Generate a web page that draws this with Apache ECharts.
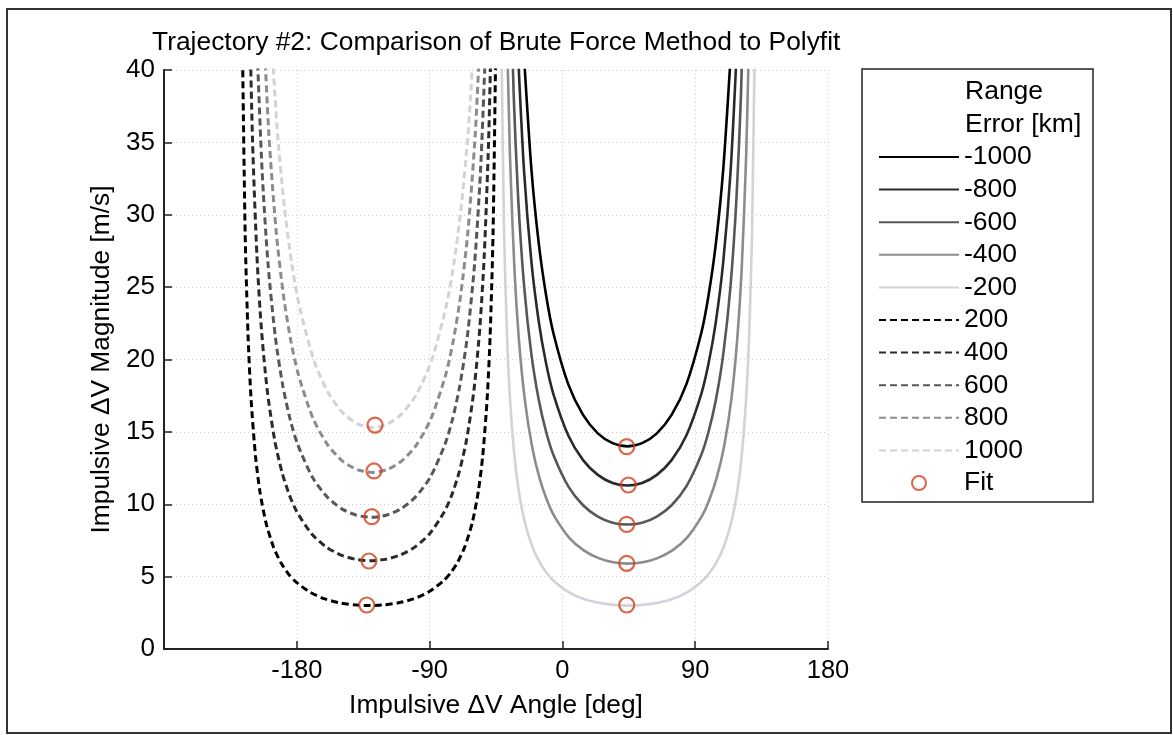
<!DOCTYPE html>
<html>
<head>
<meta charset="utf-8">
<script src="https://cdn.jsdelivr.net/npm/echarts@6/dist/echarts.min.js"></script>
<style>
html,body{margin:0;padding:0;background:#fff;}
#chart{width:1173px;height:735px;}
</style>
</head>
<body>
<div id="chart"></div>
<script>
// ---- Data: [angle deg, magnitude m/s] ----
const rangeM1000 = [[-26,40.93],[-21,33.13],[-16,28.00],[-11,24.41],[-6,21.78],[4,18.28],[14,16.17],[24,14.90],[34,14.22],[44,14.00],[54,14.22],[64,14.90],[74,16.17],[84,18.28],[94,21.78],[99,24.41],[104,28.00],[109,33.13],[114,40.93]];
const rangeM800 = [[-30,41.00],[-26,33.04],[-21,26.74],[-16,22.60],[-11,19.70],[-6,17.58],[4,14.75],[14,13.05],[24,12.03],[34,11.47],[44,11.30],[54,11.47],[64,12.03],[74,13.05],[84,14.75],[94,17.58],[99,19.70],[104,22.60],[109,26.74],[114,33.04],[118,41.00]];
const rangeM600 = [[-36,49.53],[-33,38.23],[-30,31.20],[-26,25.14],[-21,20.35],[-16,17.20],[-11,14.99],[-6,13.38],[4,11.23],[14,9.93],[24,9.15],[34,8.73],[44,8.60],[54,8.73],[64,9.15],[74,9.93],[84,11.23],[94,13.38],[99,14.99],[104,17.20],[109,20.35],[114,25.14],[118,31.20],[121,38.23],[124,49.53]];
const rangeM400 = [[-37.5,42.39],[-35.5,33.98],[-32.5,26.23],[-29.5,21.41],[-25.5,17.25],[-20.5,13.96],[-15.5,11.80],[-10.5,10.29],[-5.5,9.18],[4.5,7.70],[14.5,6.81],[24.5,6.28],[34.5,5.99],[44.5,5.90],[54.5,5.99],[64.5,6.28],[74.5,6.81],[84.5,7.70],[94.5,9.18],[99.5,10.29],[104.5,11.80],[109.5,13.96],[114.5,17.25],[118.5,21.41],[121.5,26.23],[124.5,33.98],[126.5,42.39]];
const rangeM200 = [[-41.5,43.01],[-39.5,28.70],[-37.5,21.56],[-35.5,17.28],[-32.5,13.34],[-29.5,10.88],[-25.5,8.77],[-20.5,7.10],[-15.5,6.00],[-10.5,5.23],[-5.5,4.67],[4.5,3.92],[14.5,3.46],[24.5,3.19],[34.5,3.05],[44.5,3.00],[54.5,3.05],[64.5,3.19],[74.5,3.46],[84.5,3.92],[94.5,4.67],[99.5,5.23],[104.5,6.00],[109.5,7.10],[114.5,8.77],[118.5,10.88],[121.5,13.34],[124.5,17.28],[126.5,21.56],[128.5,28.70],[130.5,43.01]];
const rangeP200 = [[-217,43.01],[-215,28.70],[-213,21.56],[-211,17.28],[-208,13.34],[-205,10.88],[-201,8.77],[-196,7.10],[-191,6.00],[-186,5.23],[-181,4.67],[-171,3.92],[-161,3.46],[-151,3.19],[-141,3.05],[-131,3.00],[-121,3.05],[-111,3.19],[-101,3.46],[-91,3.92],[-81,4.67],[-76,5.23],[-71,6.00],[-66,7.10],[-61,8.77],[-57,10.88],[-54,13.34],[-51,17.28],[-49,21.56],[-47,28.70],[-45,43.01]];
const rangeP400 = [[-212,43.83],[-210,35.13],[-207,27.12],[-204,22.13],[-200,17.84],[-195,14.43],[-190,12.20],[-185,10.63],[-180,9.49],[-170,7.96],[-160,7.04],[-150,6.49],[-140,6.19],[-130,6.10],[-120,6.19],[-110,6.49],[-100,7.04],[-90,7.96],[-80,9.49],[-75,10.63],[-70,12.20],[-65,14.43],[-60,17.84],[-56,22.13],[-53,27.12],[-50,35.13],[-48,43.83]];
const rangeP600 = [[-206.5,40.45],[-203.5,33.01],[-199.5,26.61],[-194.5,21.53],[-189.5,18.20],[-184.5,15.86],[-179.5,14.16],[-169.5,11.88],[-159.5,10.51],[-149.5,9.68],[-139.5,9.24],[-129.5,9.10],[-119.5,9.24],[-109.5,9.68],[-99.5,10.51],[-89.5,11.88],[-79.5,14.16],[-74.5,15.86],[-69.5,18.20],[-64.5,21.53],[-59.5,26.61],[-55.5,33.01],[-52.5,40.45]];
const rangeP800 = [[-203,44.26],[-199,35.67],[-194,28.87],[-189,24.40],[-184,21.27],[-179,18.98],[-169,15.93],[-159,14.09],[-149,12.98],[-139,12.39],[-129,12.20],[-119,12.39],[-109,12.98],[-99,14.09],[-89,15.93],[-79,18.98],[-74,21.27],[-69,24.40],[-64,28.87],[-59,35.67],[-55,44.26]];
const rangeP1000 = [[-198.5,44.73],[-193.5,36.20],[-188.5,30.60],[-183.5,26.67],[-178.5,23.80],[-168.5,19.97],[-158.5,17.67],[-148.5,16.28],[-138.5,15.54],[-128.5,15.30],[-118.5,15.54],[-108.5,16.28],[-98.5,17.67],[-88.5,19.97],[-78.5,23.80],[-73.5,26.67],[-68.5,30.60],[-63.5,36.20],[-58.5,44.73]];
const fitAngles = [-132.6,-131.1,-129.2,-127.7,-127.0,43.6,44.7,43.6,43.6,43.6];
const fitMags = [3.04,6.08,9.14,12.30,15.47,13.98,11.33,8.61,5.92,3.04];

const seriesNames = ['-1000','-800','-600','-400','-200','200','400','600','800','1000'];
const seriesData = [rangeM1000,rangeM800,rangeM600,rangeM400,rangeM200,rangeP200,rangeP400,rangeP600,rangeP800,rangeP1000];
const xTicks = [-180,-90,0,90,180];
const titleText = 'Trajectory #2: Comparison of Brute Force Method to Polyfit';
const legendHeader = ['Range','Error [km]'];

// ---- styles ----
const grays = ['#000000','#2a2a2a','#575757','#8c8c8c','#d2d2da'];
const FONT = "'Liberation Sans', Arial, Helvetica, sans-serif";

const lineSeries = seriesNames.map((name, i) => ({
  name: name,
  type: 'line',
  data: seriesData[i],
  symbol: 'none',
  smooth: 0.25,
  clip: true,
  lineStyle: {
    color: grays[i % 5],
    width: i < 5 ? 2.6 : 3,
    type: i < 5 ? 'solid' : [7, 4]
  },
  itemStyle: { color: grays[i % 5] },
  z: 3
}));

const fitSeries = {
  name: 'Fit',
  type: 'scatter',
  data: fitAngles.map((a, i) => [a, fitMags[i]]),
  symbol: 'circle',
  symbolSize: 15,
  itemStyle: { color: 'rgba(255,255,255,0)', borderColor: '#d2401c', borderWidth: 2.2 },
  z: 5
};

const legendData = seriesNames.map(n => ({ name: n, itemStyle: { opacity: 0 } })).concat([{ name: 'Fit' }]);

const chart = echarts.init(document.getElementById('chart'), null, { renderer: 'canvas' });
chart.setOption({
  backgroundColor: '#ffffff',
  animation: false,
  title: {
    text: titleText,
    left: 152, top: 30, padding: 0,
    textStyle: { fontFamily: FONT, fontSize: 26.4, fontWeight: 'normal', color: '#000' }
  },
  grid: { left: 164, right: 345, top: 70, bottom: 86, containLabel: false },
  xAxis: {
    type: 'value', min: -270, max: 180, interval: 90,
    name: 'Impulsive \u0394V Angle [deg]', nameLocation: 'middle', nameGap: 44,
    nameTextStyle: { fontFamily: FONT, fontSize: 26.3, color: '#000' },
    axisLine: { show: true, onZero: false, lineStyle: { color: '#222', width: 2 } },
    axisTick: { show: true, inside: true, length: 8, lineStyle: { color: '#222', width: 1.5 } },
    axisLabel: {
      fontFamily: FONT, fontSize: 25.5, color: '#000', margin: 9,
      formatter: v => (xTicks.indexOf(v) >= 0 ? String(v) : '')
    },
    splitLine: { show: true, lineStyle: { color: '#d0d0d0', type: [1, 3], width: 1 } }
  },
  yAxis: {
    type: 'value', min: 0, max: 40, interval: 5,
    name: 'Impulsive \u0394V Magnitude [m/s]', nameLocation: 'middle', nameGap: 40,
    nameTextStyle: { fontFamily: FONT, fontSize: 26.3, color: '#000' },
    axisLine: { show: true, onZero: false, lineStyle: { color: '#222', width: 2 } },
    axisTick: { show: true, inside: true, length: 8, lineStyle: { color: '#222', width: 1.5 } },
    axisLabel: { fontFamily: FONT, fontSize: 26, color: '#000', margin: 9 },
    splitLine: { show: true, lineStyle: { color: '#d0d0d0', type: [1, 3], width: 1 } }
  },
  legend: {
    orient: 'vertical',
    left: 878, top: 141,
    padding: 0,
    itemWidth: 80, itemHeight: 14, itemGap: 0.6,
    data: legendData,
    textStyle: { fontFamily: FONT, fontSize: 26.5, color: '#000', lineHeight: 32 },
    selectedMode: false
  },
  graphic: [
    { type: 'rect', silent: true, shape: { x: 7, y: 9, width: 1164, height: 724 },
      style: { fill: 'none', stroke: '#333', lineWidth: 2 }, z: 100 },
    { type: 'rect', silent: true, shape: { x: 862, y: 69, width: 231, height: 433 },
      style: { fill: 'none', stroke: '#222', lineWidth: 1.5 }, z: 100 },
    { type: 'text', silent: true, x: 965, y: 92,
      style: { text: legendHeader[0], font: '26.5px ' + FONT, fill: '#000', textVerticalAlign: 'middle', verticalAlign: 'middle' }, z: 100 },
    { type: 'text', silent: true, x: 965, y: 124.5,
      style: { text: legendHeader[1], font: '26.5px ' + FONT, fill: '#000', textVerticalAlign: 'middle', verticalAlign: 'middle' }, z: 100 }
  ],
  series: lineSeries.concat([fitSeries])
});
</script>
</body>
</html>
